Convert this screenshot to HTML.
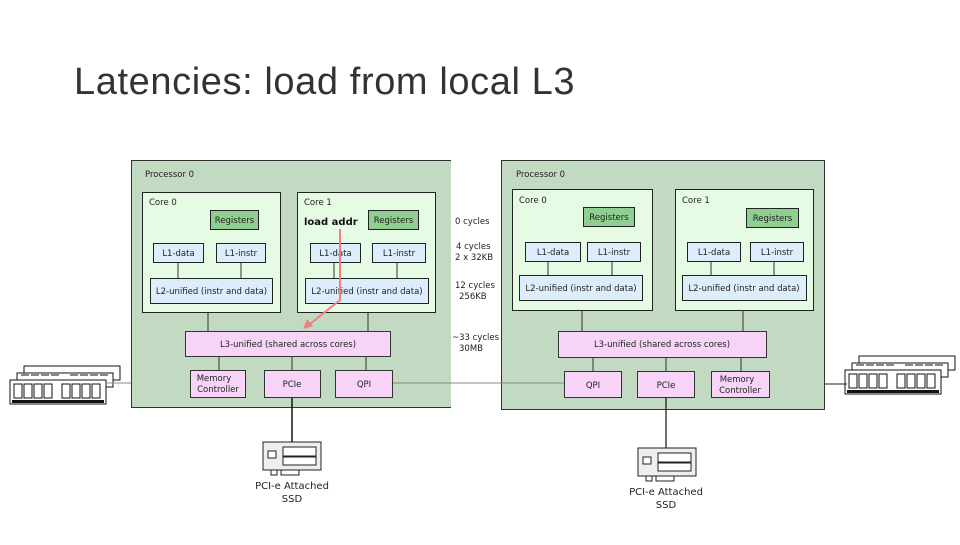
<!DOCTYPE html>
<html><head><meta charset="utf-8"><style>
body{margin:0;background:#fff;width:960px;height:540px;overflow:hidden}
svg text{font-family:"DejaVu Sans",sans-serif;font-size:8.5px;fill:#222}
</style></head><body>
<svg width="960" height="540" viewBox="0 0 960 540" xmlns="http://www.w3.org/2000/svg">
<text x="74" y="94" style="font-family:'Liberation Sans',sans-serif;font-size:38px;fill:#333;letter-spacing:0.6px">Latencies: load from local L3</text>
<defs>
<g id="ram">
 <g stroke="#111" fill="#fff" stroke-width="1">
  <rect x="14" y="0" width="96" height="14"/>
  <rect x="7" y="7" width="96" height="14"/>
  <rect x="0" y="14" width="96" height="24"/>
 </g>
 <g fill="none" stroke="#111" stroke-width="1">
  <rect x="4" y="18" width="8" height="14"/><rect x="14" y="18" width="8" height="14"/><rect x="24" y="18" width="8" height="14"/><rect x="34" y="18" width="8" height="14"/>
  <rect x="52" y="18" width="8" height="14"/><rect x="62" y="18" width="8" height="14"/><rect x="72" y="18" width="8" height="14"/><rect x="82" y="18" width="8" height="14"/>
  <path d="M11 9h8M21 9h8M31 9h8M41 9h8M60 9h8M70 9h8M80 9h8M90 9h8"/>
 </g>
 <rect x="2" y="34" width="92" height="3" fill="#111"/>
</g>
<g id="ssd">
 <rect x="0" y="0" width="58" height="28" fill="#eee" stroke="#222"/>
 <rect x="5" y="9" width="8" height="7" fill="#fff" stroke="#222"/>
 <rect x="20" y="5" width="33" height="9" fill="#fff" stroke="#222"/>
 <rect x="20" y="15" width="33" height="8" fill="#fff" stroke="#222"/>
 <path d="M8 28v5h6v-5M18 28v5h18v-5" fill="none" stroke="#222"/>
</g>
</defs>

<!-- RAM -->
<use href="#ram" x="10" y="366"/>
<use href="#ram" x="845" y="356"/>
<line x1="106" y1="383" x2="190" y2="383" stroke="#888"/>
<line x1="825" y1="384" x2="847" y2="384" stroke="#222"/>

<!-- Left processor -->
<rect x="131.5" y="160.5" width="330" height="247" fill="#c2d9c2" stroke="#333"/>
<rect x="451" y="155" width="48" height="260" fill="#fff"/>
<line x1="392" y1="383" x2="564" y2="383" stroke="#888"/>
<text x="145" y="177">Processor 0</text>
<rect x="142.5" y="192.5" width="138" height="120" fill="#e6fbe3" stroke="#222"/>
<rect x="297.5" y="192.5" width="138" height="120" fill="#e6fbe3" stroke="#222"/>
<text x="149" y="205">Core 0</text><text x="304" y="205">Core 1</text>
<rect x="210.5" y="210.5" width="48" height="19" fill="#8fcf8f" stroke="#222"/>
<text x="234.5" y="223" text-anchor="middle">Registers</text>
<rect x="368.5" y="210.5" width="50" height="19" fill="#8fcf8f" stroke="#222"/>
<text x="393.5" y="223" text-anchor="middle">Registers</text>
<text x="304" y="225" style="font-size:10px;font-weight:bold;fill:#111">load addr</text>
<g fill="#dceefb" stroke="#222">
<rect x="153.5" y="243.5" width="50" height="19"/><rect x="216.5" y="243.5" width="49" height="19"/>
<rect x="310.5" y="243.5" width="50" height="19"/><rect x="372.5" y="243.5" width="53" height="19"/>
<rect x="150.5" y="278.5" width="122" height="25"/><rect x="305.5" y="278.5" width="123" height="25"/>
</g>
<g text-anchor="middle">
<text x="178.5" y="256">L1-data</text><text x="241" y="256">L1-instr</text>
<text x="335.5" y="256">L1-data</text><text x="399" y="256">L1-instr</text>
<text x="211.5" y="294">L2-unified (instr and data)</text><text x="367" y="294">L2-unified (instr and data)</text>
</g>
<g stroke="#333"><line x1="178" y1="263" x2="178" y2="278"/><line x1="241" y1="263" x2="241" y2="278"/>
<line x1="334" y1="263" x2="334" y2="278"/><line x1="397" y1="263" x2="397" y2="278"/>
<line x1="208" y1="313" x2="208" y2="331"/><line x1="368" y1="313" x2="368" y2="331"/>
<line x1="219" y1="356" x2="219" y2="370"/><line x1="292" y1="356" x2="292" y2="370"/><line x1="366" y1="356" x2="366" y2="370"/>
<line x1="292" y1="397" x2="292" y2="442" stroke="#111" stroke-width="1.5"/></g>
<rect x="185.5" y="331.5" width="205" height="25" fill="#f8d4f8" stroke="#333"/>
<text x="288" y="347" text-anchor="middle">L3-unified (shared across cores)</text>
<g fill="#f8d4f8" stroke="#333">
<rect x="190.5" y="370.5" width="55" height="27"/><rect x="264.5" y="370.5" width="56" height="27"/><rect x="335.5" y="370.5" width="57" height="27"/></g>
<g text-anchor="middle"><text x="214" y="381">Memory</text><text x="218" y="392">Controller</text>
<text x="292" y="387">PCIe</text><text x="364" y="387">QPI</text></g>
<!-- arrow -->
<path d="M340 229 L340 300 L310 324" fill="none" stroke="#f08080" stroke-width="2"/>
<path d="M303 329 L307 319 L313 326 Z" fill="#f08080"/>
<!-- latencies -->
<g style="font-size:9px">
<text x="455" y="224">0 cycles</text>
<text x="456" y="249">4 cycles</text><text x="455" y="260">2 x 32KB</text>
<text x="455" y="288">12 cycles</text><text x="459" y="299">256KB</text>
<text x="452" y="340" style="font-size:8.5px">~33 cycles</text><text x="459" y="351">30MB</text></g>

<use href="#ssd" x="263" y="442"/>
<text x="292" y="489" text-anchor="middle" style="font-size:10px">PCI-e Attached</text>
<text x="292" y="502" text-anchor="middle" style="font-size:10px">SSD</text>

<!-- Right processor -->
<rect x="501.5" y="160.5" width="323" height="249" fill="#c2d9c2" stroke="#333"/>
<line x1="501" y1="383" x2="564" y2="383" stroke="#888"/>
<text x="516" y="177">Processor 0</text>
<rect x="512.5" y="189.5" width="140" height="121" fill="#e6fbe3" stroke="#222"/>
<rect x="675.5" y="189.5" width="138" height="121" fill="#e6fbe3" stroke="#222"/>
<text x="519" y="203">Core 0</text><text x="682" y="203">Core 1</text>
<rect x="583.5" y="207.5" width="51" height="19" fill="#8fcf8f" stroke="#222"/>
<text x="609" y="220" text-anchor="middle">Registers</text>
<rect x="746.5" y="208.5" width="52" height="19" fill="#8fcf8f" stroke="#222"/>
<text x="772.5" y="221" text-anchor="middle">Registers</text>
<g fill="#dceefb" stroke="#222">
<rect x="525.5" y="242.5" width="55" height="19"/><rect x="587.5" y="242.5" width="53" height="19"/>
<rect x="687.5" y="242.5" width="53" height="19"/><rect x="750.5" y="242.5" width="53" height="19"/>
<rect x="519.5" y="275.5" width="123" height="25"/><rect x="682.5" y="275.5" width="124" height="25"/>
</g>
<g text-anchor="middle">
<text x="553" y="255">L1-data</text><text x="614" y="255">L1-instr</text>
<text x="714" y="255">L1-data</text><text x="777" y="255">L1-instr</text>
<text x="581" y="291">L2-unified (instr and data)</text><text x="744" y="291">L2-unified (instr and data)</text>
</g>
<g stroke="#333"><line x1="548" y1="262" x2="548" y2="275"/><line x1="612" y1="262" x2="612" y2="275"/>
<line x1="711" y1="262" x2="711" y2="275"/><line x1="774" y1="262" x2="774" y2="275"/>
<line x1="582" y1="310" x2="582" y2="331"/><line x1="743" y1="310" x2="743" y2="331"/>
<line x1="593" y1="357" x2="593" y2="371"/><line x1="666" y1="357" x2="666" y2="371"/><line x1="741" y1="357" x2="741" y2="371"/>
<line x1="666" y1="397" x2="666" y2="448" stroke="#111" stroke-width="1.2"/></g>
<rect x="558.5" y="331.5" width="208" height="26" fill="#f8d4f8" stroke="#333"/>
<text x="662" y="347" text-anchor="middle">L3-unified (shared across cores)</text>
<g fill="#f8d4f8" stroke="#333">
<rect x="564.5" y="371.5" width="57" height="26"/><rect x="637.5" y="371.5" width="57" height="26"/><rect x="711.5" y="371.5" width="58" height="26"/></g>
<g text-anchor="middle"><text x="593" y="388">QPI</text><text x="666" y="388">PCIe</text>
<text x="737" y="382">Memory</text><text x="740" y="393">Controller</text></g>

<use href="#ssd" x="638" y="448"/>
<text x="666" y="495" text-anchor="middle" style="font-size:10px">PCI-e Attached</text>
<text x="666" y="508" text-anchor="middle" style="font-size:10px">SSD</text>
</svg>
</body></html>
